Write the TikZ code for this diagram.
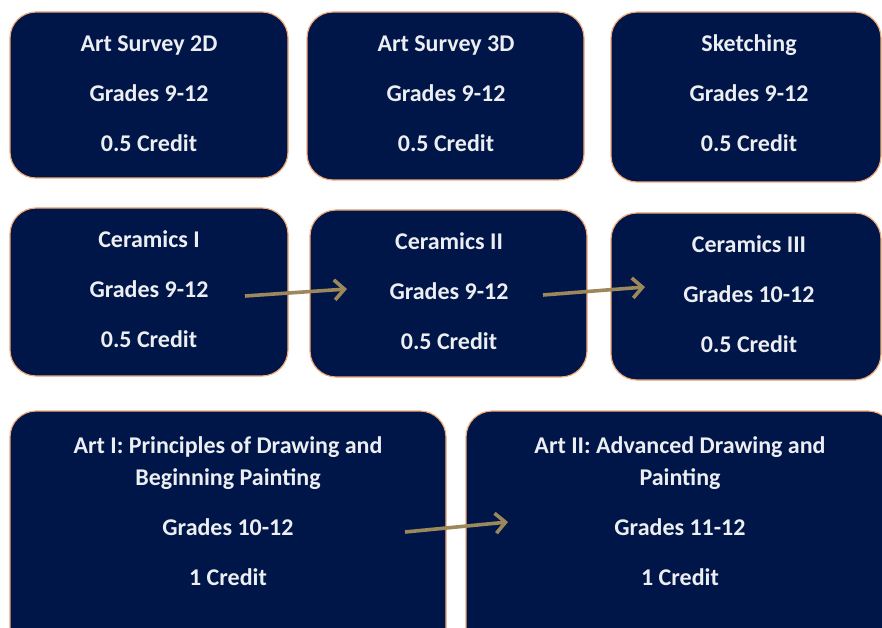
\documentclass[tikz,border=0pt]{standalone}
\usepackage{fontspec}
\setmainfont{Carlito}
\usetikzlibrary{arrows.meta}
\definecolor{navy}{RGB}{0,22,72}
\definecolor{rim}{RGB}{240,170,120}
\definecolor{olive}{RGB}{156,136,90}
\definecolor{txt}{RGB}{236,238,242}
\begin{document}
\begin{tikzpicture}[x=1pt,y=-1pt,
  course/.style={draw=rim,line width=1.2pt,fill=navy,rounded corners=26pt,inner sep=0pt},
  label/.style={text=txt,font=\bfseries\fontsize{24}{32}\selectfont,align=center,inner sep=0pt},
  prereq/.style={draw=olive,line width=3.6pt,-{Straight Barb[length=10pt,width=20pt,line width=3.6pt]}}]
\useasboundingbox (0,0) rectangle (882,628);
\clip (0,0) rectangle (882,628);
% row 1
\node[course,minimum width=278pt,minimum height=166pt] (a) at (149,95) {};
\node[course,minimum width=277pt,minimum height=168pt] (b) at (445.5,96) {};
\node[course,minimum width=270pt,minimum height=170pt] (c) at (746,97) {};
% row 2
\node[course,minimum width=278pt,minimum height=168pt] (d) at (149,292) {};
\node[course,minimum width=277pt,minimum height=167pt] (e) at (448.5,293.5) {};
\node[course,minimum width=270pt,minimum height=167pt] (f) at (746,296.5) {};
% row 3
\node[course,minimum width=436pt,minimum height=260pt] (g) at (228,541) {};
\node[course,minimum width=428pt,minimum height=260pt] (h) at (680,541) {};
% texts
\node[label] (ta) at (149,93.5) {Art Survey 2D\\[18pt]Grades 9-12\\[18pt]0.5 Credit};
\node[label] (tb) at (446,93.5) {Art Survey 3D\\[18pt]Grades 9-12\\[18pt]0.5 Credit};
\node[label] (tc) at (749,93.5) {Sketching\\[18pt]Grades 9-12\\[18pt]0.5 Credit};
\node[label] (td) at (149,289.5) {Ceramics I\\[18pt]Grades 9-12\\[18pt]0.5 Credit};
\node[label] (te) at (449,291.5) {Ceramics II\\[18pt]Grades 9-12\\[18pt]0.5 Credit};
\node[label] (tf) at (749,294.5) {Ceramics III\\[18pt]Grades 10-12\\[18pt]0.5 Credit};
\node[label] (tg) at (228,511.5) {Art I: Principles of Drawing and\\Beginning Painting\\[18pt]Grades 10-12\\[18pt]1 Credit};
\node[label] (th) at (680,511.5) {Art II: Advanced Drawing and\\Painting\\[18pt]Grades 11-12\\[18pt]1 Credit};
% arrows
\coordinate (d1) at (245,296);
\coordinate (e1) at (347,289);
\coordinate (e2) at (543,295);
\coordinate (f1) at (645,287);
\coordinate (g1) at (405,532);
\coordinate (h1) at (508,522);
\draw[prereq] (d1) -- (e1);
\draw[prereq] (e2) -- (f1);
\draw[prereq] (g1) -- (h1);
\end{tikzpicture}
\end{document}
